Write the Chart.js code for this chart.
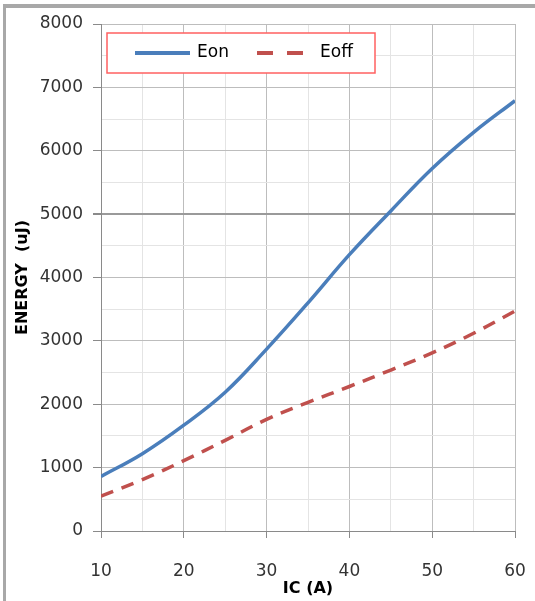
<!DOCTYPE html>
<html><head><meta charset="utf-8">
<script src="https://cdn.jsdelivr.net/npm/chart.js@4.4.1/dist/chart.umd.min.js"></script>
<style>
html,body{margin:0;padding:0;background:#fff;overflow:hidden;}
#frame{position:absolute;left:3px;top:4px;width:540px;height:600px;border-left:3px solid #a8a8a8;border-top:4px solid #a8a8a8;}
#c{position:absolute;left:0;top:0;}
</style></head><body>
<div id="frame"></div>
<canvas id="c" width="535" height="601"></canvas>
<script>
const currents   = [10, 15, 20, 25, 30, 35, 40, 45, 50, 55, 60];
const eonValues  = [860, 1220, 1670, 2190, 2870, 3600, 4360, 5050, 5720, 6290, 6790];
const eoffValues = [550, 810, 1110, 1430, 1760, 2030, 2280, 2540, 2810, 3120, 3470];
const seriesNames = ['Eon', 'Eoff'];
const xTickLabels = [10, 20, 30, 40, 50, 60];
const yTickLabels = [0, 1000, 2000, 3000, 4000, 5000, 6000, 7000, 8000];
const xTitle = 'IC (A)';
const yTitle = 'ENERGY  (uJ)';

const BLUE = '#4a7ebb', RED = '#c0504d';
const FONT = 'DejaVu Sans';

const toPts = (xs, ys) => xs.map((x, i) => ({x: x, y: ys[i]}));

const legendPlugin = {
  id: 'boxLegend',
  afterDatasetsDraw(chart) {
    const ctx = chart.ctx, ca = chart.chartArea;
    const bx = ca.left + 6, by = ca.top + 9, bw = 268, bh = 40;
    ctx.save();
    ctx.fillStyle = '#fff';
    ctx.fillRect(bx, by, bw, bh);
    ctx.strokeStyle = '#ff6060';
    ctx.lineWidth = 1.5;
    ctx.strokeRect(bx, by, bw, bh);
    const cy = by + bh / 2;
    const items = [
      {x0: bx + 28, x1: bx + 83, tx: bx + 90, dash: [], color: BLUE},
      {x0: bx + 150, x1: bx + 196, tx: bx + 213, dash: [16, 14], color: RED}
    ];
    ctx.font = '17px "' + FONT + '"';
    ctx.textBaseline = 'middle';
    ctx.textAlign = 'left';
    items.forEach((it, i) => {
      ctx.beginPath();
      ctx.setLineDash(it.dash);
      ctx.strokeStyle = it.color;
      ctx.lineWidth = 4;
      ctx.moveTo(it.x0, cy);
      ctx.lineTo(it.x1, cy);
      ctx.stroke();
      ctx.setLineDash([]);
      ctx.fillStyle = '#000';
      ctx.fillText(chart.data.datasets[i].label, it.tx, cy);
    });
    ctx.restore();
  }
};

new Chart(document.getElementById('c'), {
  type: 'line',
  data: {
    datasets: [
      {label: seriesNames[0], data: toPts(currents, eonValues), borderColor: BLUE, backgroundColor: BLUE,
       borderWidth: 3.5, pointRadius: 0, tension: 0.4, fill: false},
      {label: seriesNames[1], data: toPts(currents, eoffValues), borderColor: RED, backgroundColor: RED,
       borderWidth: 3.5, borderDash: [13, 9], pointRadius: 0, tension: 0.4, fill: false}
    ]
  },
  options: {
    responsive: false,
    animation: false,
    layout: {padding: {top: 24, right: 0, left: 0, bottom: 0}},
    plugins: {legend: {display: false}, tooltip: {enabled: false}},
    scales: {
      x: {
        type: 'linear', min: 10, max: 60,
        afterFit: s => { s.height = 70; s.paddingRight = 20; s.paddingLeft = 0; },
        afterBuildTicks: s => {
          const t = [];
          for (let v = 10; v <= 60; v += 5) t.push({value: v});
          s.ticks = t;
        },
        ticks: {
          autoSkip: false, maxRotation: 0, padding: 23,
          color: '#333', font: {family: FONT, size: 17},
          callback: v => xTickLabels.includes(v) ? String(v) : ''
        },
        grid: {
          color: c => xTickLabels.includes(c.tick.value) ? '#bdbdbd' : '#e4e4e4',
          tickColor: c => xTickLabels.includes(c.tick.value) ? '#8a8a8a' : 'rgba(0,0,0,0)',
          tickLength: 7
        },
        border: {color: '#8a8a8a', width: 1},
        title: {display: true, text: xTitle, color: '#000',
                font: {family: FONT, size: 16, weight: 'bold'}, padding: {top: 0, bottom: 3}}
      },
      y: {
        type: 'linear', min: 0, max: 8000,
        afterFit: s => { s.width = 101; },
        afterBuildTicks: s => {
          const t = [];
          for (let v = 0; v <= 8000; v += 500) t.push({value: v});
          s.ticks = t;
        },
        ticks: {
          autoSkip: false, padding: 10,
          color: '#333', font: {family: FONT, size: 17},
          callback: v => yTickLabels.includes(v) ? String(v) : ''
        },
        grid: {
          color: c => c.tick.value === 5000 ? '#9a9a9a' : (yTickLabels.includes(c.tick.value) ? '#bdbdbd' : '#e4e4e4'),
          lineWidth: c => c.tick.value === 5000 ? 2 : 1,
          tickColor: c => yTickLabels.includes(c.tick.value) ? '#8a8a8a' : 'rgba(0,0,0,0)',
          tickLength: 8
        },
        border: {color: '#8a8a8a', width: 1},
        title: {display: true, text: yTitle, color: '#000',
                font: {family: FONT, size: 16, weight: 'bold'}, padding: {top: 13, bottom: 0}}
      }
    }
  },
  plugins: [legendPlugin]
});
</script>
</body></html>
